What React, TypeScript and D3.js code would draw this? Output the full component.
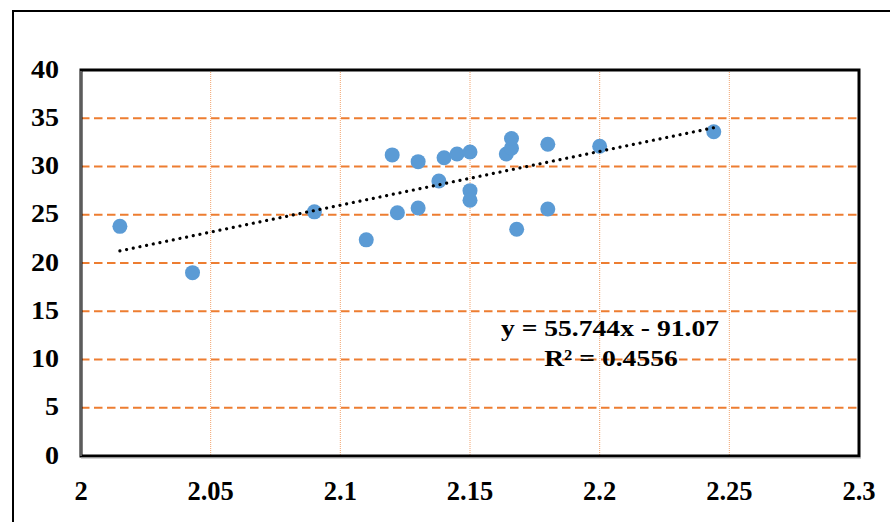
import React from "react";
import * as d3 from "d3";

const xValues = [2.015, 2.043, 2.09, 2.11, 2.12, 2.122, 2.13, 2.13, 2.138, 2.14, 2.145, 2.15, 2.15, 2.15, 2.164, 2.166, 2.166, 2.168, 2.18, 2.18, 2.2, 2.244];
const yValues = [23.8, 19.0, 25.3, 22.4, 31.2, 25.2, 30.5, 25.7, 28.5, 30.9, 31.3, 31.5, 27.5, 26.5, 31.3, 31.9, 32.9, 23.5, 32.3, 25.6, 32.1, 33.6];
const xTicks = [2, 2.05, 2.1, 2.15, 2.2, 2.25, 2.3];
const yTicks = [0, 5, 10, 15, 20, 25, 30, 35, 40];
const slope = 55.744;
const intercept = -91.07;
const eqLine1 = "y = 55.744x - 91.07";
const eqLine2 = "R² = 0.4556";

const W = 890;
const H = 522;
const plot = { left: 81, top: 70, right: 859, bottom: 456 };
const ORANGE = "#ED7D31";
const BLUE = "#5B9BD5";
const FONT = "Liberation Serif, Times New Roman, serif";

export default function App() {
  const x = d3.scaleLinear().domain([2, 2.3]).range([plot.left, plot.right]);
  const y = d3.scaleLinear().domain([0, 40]).range([plot.bottom, plot.top]);
  const xmin = d3.min(xValues) as number;
  const xmax = d3.max(xValues) as number;
  const trend = d3
    .line<number>()
    .x((d) => x(d))
    .y((d) => y(slope * d + intercept))([xmin, xmax]);

  return (
    <svg
      width={W}
      height={H}
      style={{ position: "absolute", left: 0, top: 0, background: "#fff" }}
    >
      <rect x={0} y={0} width={W} height={H} fill="#fff" />
      <rect x={13} y={11} width={W + 20} height={H + 20} fill="none" stroke="#000" strokeWidth={2} />
      {/* vertical grid */}
      {xTicks.slice(1, -1).map((t) => (
        <line
          key={"vx" + t}
          x1={x(t)}
          x2={x(t)}
          y1={plot.top}
          y2={plot.bottom}
          stroke={ORANGE}
          strokeWidth={1}
          strokeDasharray="1,1"
          opacity={0.7}
        />
      ))}
      {/* horizontal grid */}
      {yTicks.slice(1, -1).map((t) => (
        <line
          key={"hy" + t}
          x1={plot.left}
          x2={plot.right}
          y1={y(t)}
          y2={y(t)}
          stroke={ORANGE}
          strokeWidth={2}
          strokeDasharray="8.5,4.5"
        />
      ))}
      {/* frame */}
      <rect
        x={plot.left}
        y={plot.top}
        width={plot.right - plot.left}
        height={plot.bottom - plot.top}
        fill="none"
        stroke="#000"
        strokeWidth={3}
      />
      <line x1={plot.left} x2={plot.left} y1={plot.top + 1} y2={plot.bottom} stroke="#999" strokeWidth={1.2} />
      <line x1={plot.left} x2={plot.right + 2} y1={plot.bottom + 2} y2={plot.bottom + 2} stroke="#aaa" strokeWidth={1.2} />
      {/* points */}
      {xValues.map((v, i) => (
        <circle key={"p" + i} cx={x(v)} cy={y(yValues[i])} r={7.5} fill={BLUE} />
      ))}
      {/* trendline */}
      <path
        d={trend || ""}
        fill="none"
        stroke="#000"
        strokeWidth={3.2}
        strokeLinecap="round"
        strokeDasharray="0.01,6.8"
      />
      {/* y labels */}
      {yTicks.map((t) => (
        <text
          key={"yl" + t}
          transform={`translate(59,${y(t) + 7.5}) scale(1.1,1)`}
          textAnchor="end"
          fontFamily={FONT}
          fontWeight="bold"
          fontSize={25.5}
          fill="#000"
        >
          {t}
        </text>
      ))}
      {/* x labels */}
      {xTicks.map((t) => (
        <text
          key={"xl" + t}
          x={x(t)}
          y={499.5}
          textAnchor="middle"
          fontFamily={FONT}
          fontWeight="bold"
          fontSize={26.5}
          fill="#000"
        >
          {String(t)}
        </text>
      ))}
      {/* equation */}
      <text
        transform="translate(610,336) scale(1.15,1)"
        textAnchor="middle"
        fontFamily={FONT}
        fontWeight="bold"
        fontSize={24}
        fill="#000"
      >
        {eqLine1}
      </text>
      <text
        transform="translate(611,366) scale(1.15,1)"
        textAnchor="middle"
        fontFamily={FONT}
        fontWeight="bold"
        fontSize={24}
        fill="#000"
      >
        {eqLine2}
      </text>
    </svg>
  );
}
